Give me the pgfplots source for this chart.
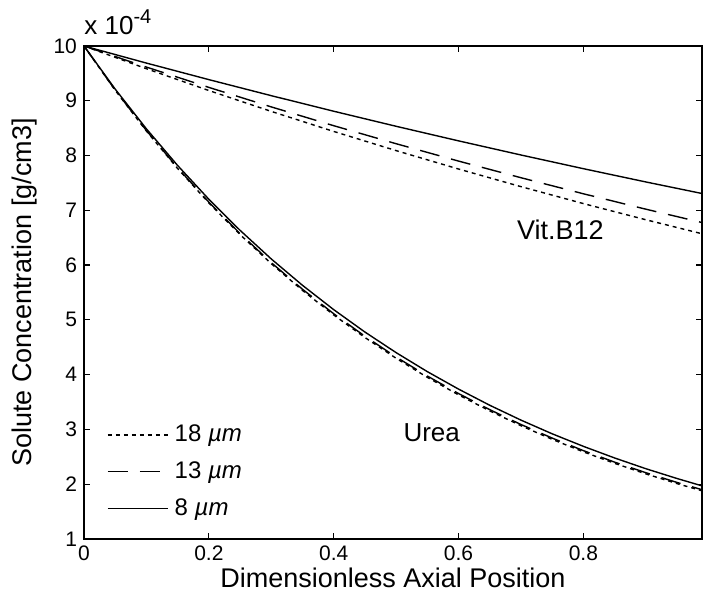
\documentclass[border=0pt]{standalone}
\usepackage{pgfplots}
\pgfplotsset{compat=1.18}
\usepackage{fontspec}
\setmainfont{Liberation Sans}
\begin{document}
\begin{tikzpicture}
\begin{axis}[
  name=ax,
  scale only axis,
  width=309pt, height=246.5pt,
  xmin=0, xmax=0.99, ymin=1, ymax=10,
  xtick={0,0.2,0.4,0.6,0.8},
  ytick={1,2,3,4,5,6,7,8,9,10},
  xtick pos=both, ytick pos=both,
  scaled y ticks=false,
  tick align=inside,
  major tick length=3pt,
  axis line style={line width=0.8pt},
  every tick/.style={black, line width=0.6pt},
  /pgf/number format/assume math mode=true,
  tick label style={font=\fontsize{10.5}{12}\selectfont},
  xlabel={Dimensionless Axial Position},
  ylabel={Solute Concentration [g/cm3]},
  every axis x label/.style={at={(axis description cs:0.5,-0.079)}, anchor=center, font=\fontsize{13.5}{16}\selectfont},
  every axis y label/.style={at={(axis description cs:-0.0955,0.5)}, anchor=center, rotate=90, font=\fontsize{13.5}{16}\selectfont},
  legend style={draw=none, fill=none, at={(axis description cs:0.037,0.24)}, anchor=north west,
    font=\fontsize{12}{14}\selectfont, row sep=4.5pt, inner sep=0pt,
    nodes={inner xsep=3pt}},
  legend cell align=left,
  legend image code/.code={\draw[#1] (0pt,0pt) -- (27pt,0pt); \path (0pt,0pt) -- (30pt,0pt);},
]
% Vit.B12
\addplot[black, line width=0.7pt, dash pattern=on 2pt off 2pt] coordinates {
(0,10) (0.1,9.585) (0.2,9.187) (0.3,8.806) (0.4,8.440) (0.5,8.090) (0.6,7.754) (0.7,7.432) (0.8,7.123) (0.9,6.828) (0.99,6.572)};
\addlegendentry{18 \textit{µm}}
\addplot[black, line width=0.7pt, dash pattern=on 10pt off 6pt] coordinates {
(0,10) (0.1,9.615) (0.2,9.244) (0.3,8.888) (0.4,8.545) (0.5,8.216) (0.6,7.899) (0.7,7.595) (0.8,7.302) (0.9,7.021) (0.99,6.777)};
\addlegendentry{13 \textit{µm}}
\addplot[black, line width=0.7pt] coordinates {
(0,10) (0.1,9.688) (0.2,9.386) (0.3,9.093) (0.4,8.809) (0.5,8.534) (0.6,8.268) (0.7,8.010) (0.8,7.760) (0.9,7.518) (0.99,7.307)};
\addlegendentry{8 \textit{µm}}
% Urea
\addplot[black, line width=0.7pt, dash pattern=on 2pt off 2pt, forget plot] coordinates {
(0,10) (0.05,9.191) (0.1,8.447) (0.15,7.763) (0.2,7.135) (0.25,6.557) (0.3,6.026) (0.35,5.538) (0.4,5.090) (0.45,4.678) (0.5,4.299) (0.55,3.951) (0.6,3.631) (0.65,3.338) (0.7,3.068) (0.75,2.819) (0.8,2.591) (0.85,2.381) (0.9,2.189) (0.95,2.011) (0.99,1.880)};
\addplot[black, line width=0.7pt, dash pattern=on 10pt off 6pt, forget plot] coordinates {
(0,10) (0.05,9.195) (0.1,8.456) (0.15,7.775) (0.2,7.150) (0.25,6.575) (0.3,6.045) (0.35,5.559) (0.4,5.112) (0.45,4.701) (0.5,4.322) (0.55,3.975) (0.6,3.655) (0.65,3.361) (0.7,3.090) (0.75,2.842) (0.8,2.613) (0.85,2.403) (0.9,2.210) (0.95,2.032) (0.99,1.900)};
\addplot[black, line width=0.7pt, forget plot] coordinates {
(0,10) (0.05,9.212) (0.1,8.487) (0.15,7.818) (0.2,7.202) (0.25,6.635) (0.3,6.112) (0.35,5.631) (0.4,5.187) (0.45,4.778) (0.5,4.402) (0.55,4.055) (0.6,3.736) (0.65,3.441) (0.7,3.170) (0.75,2.920) (0.8,2.691) (0.85,2.479) (0.9,2.283) (0.95,2.104) (0.99,1.970)};
\node[font=\fontsize{13.5}{16}\selectfont] at (axis cs:0.763,6.65) {Vit.B12};
\node[font=\fontsize{13}{16}\selectfont] at (axis cs:0.557,2.94) {Urea};
\end{axis}
\node[anchor=base west, inner sep=0pt, font=\fontsize{13}{15}\selectfont] at ([yshift=5.5pt]ax.north west) {x 10\raisebox{0.8ex}{\fontsize{10}{11}\selectfont -4}};
\pgfresetboundingbox
\path[use as bounding box] ([xshift=-42pt,yshift=-30pt]ax.south west) rectangle ([xshift=1pt,yshift=23pt]ax.north east);
\end{tikzpicture}
\end{document}
